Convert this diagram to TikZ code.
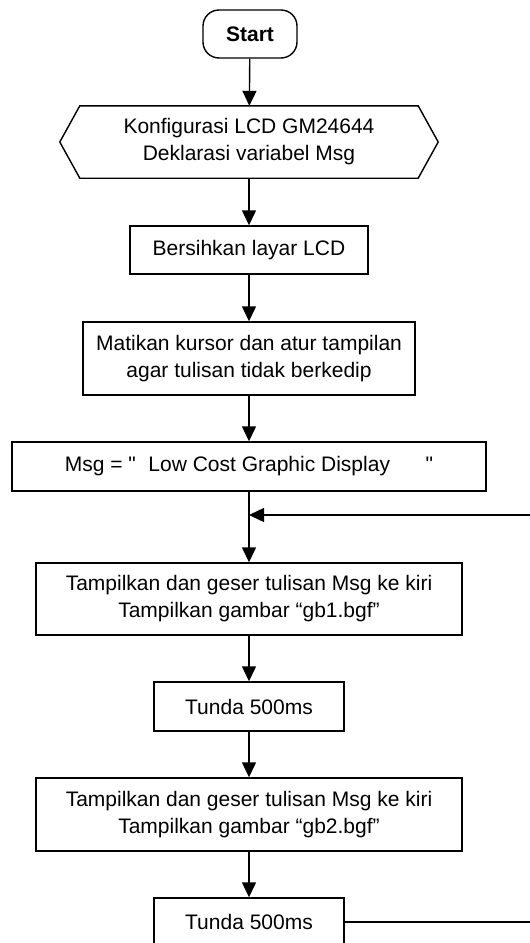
\documentclass[tikz,border=0pt]{standalone}
\usepackage{fontspec}
% no TeX ligature mapping, so that " stays a straight quote
\newfontfamily\bodyfont{Liberation Sans}
\usetikzlibrary{arrows.meta}
\begin{document}
\begin{tikzpicture}[x=1pt,y=-1pt,
  every node/.style={font=\bodyfont\fontsize{21}{27}\selectfont, align=center, inner sep=0pt},
  proc/.style={draw, line width=1.4pt, fill=white},
  term/.style={draw, line width=1.4pt, rounded corners=16pt},
  flow/.style={line width=1.4pt, -{Triangle[width=14pt,length=15pt]}},
  plain line/.style={line width=1.4pt}]
  \useasboundingbox (0,0) rectangle (530,943);

  \node[term, minimum width=94pt, minimum height=48pt, font=\bodyfont\fontsize{21}{27}\selectfont\bfseries] (start) at (250,34) {Start};

  % preparation step (hexagon)
  \node[minimum width=378pt, minimum height=72pt] (hex) at (249,142)
    {Konfigurasi LCD GM24644\\Deklarasi variabel Msg};
  \draw[line width=1.4pt] (hex.west) -- ([xshift=20pt]hex.north west) -- ([xshift=-20pt]hex.north east)
    -- (hex.east) -- ([xshift=-20pt]hex.south east) -- ([xshift=20pt]hex.south west) -- cycle;

  \node[proc, minimum width=238pt, minimum height=48pt] (clr) at (249,250) {Bersihkan layar LCD};
  \node[proc, minimum width=332pt, minimum height=73pt] (cur) at (249,358.5)
    {Matikan kursor dan atur tampilan\\agar tulisan tidak berkedip};
  \node[proc, minimum width=474pt, minimum height=49pt] (msg) at (249,466.5)
    {Msg = "\hspace{0.6em}Low Cost Graphic Display\hspace{1.7em}"};
  \coordinate (j) at (249,515);
  \node[proc, minimum width=426pt, minimum height=72pt] (s1) at (249,599)
    {Tampilkan dan geser tulisan Msg ke kiri\\Tampilkan gambar “gb1.bgf”};
  \node[proc, minimum width=190pt, minimum height=49pt] (d1) at (249,706.5) {Tunda 500ms};
  \node[proc, minimum width=426pt, minimum height=73pt] (s2) at (249,814.5)
    {Tampilkan dan geser tulisan Msg ke kiri\\Tampilkan gambar “gb2.bgf”};
  \node[proc, minimum width=190pt, minimum height=48pt] (d2) at (249,922) {Tunda 500ms};
  \coordinate (back) at (540,922);

  \draw[flow] (start) -- (hex);
  \draw[flow] (hex) -- (clr);
  \draw[flow] (clr) -- (cur);
  \draw[flow] (cur) -- (msg);
  \draw[plain line] (msg) -- (j);
  \draw[flow] (j) -- (s1);
  \draw[flow] (s1) -- (d1);
  \draw[flow] (d1) -- (s2);
  \draw[flow] (s2) -- (d2);
  % loop back to the junction
  \draw[flow] (d2.east) -- (back) |- (j);
\end{tikzpicture}
\end{document}
